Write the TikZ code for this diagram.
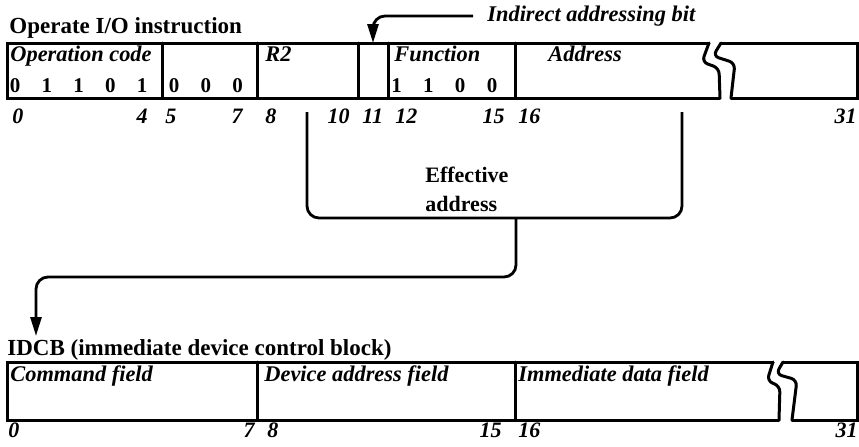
\documentclass[tikz,border=0pt]{standalone}
\usepackage{fontspec}
\setmainfont{Liberation Serif}
\usetikzlibrary{arrows.meta}
\tikzset{
    reg/.style   = {line width=1.5pt, line cap=round, line join=miter},
    link/.style  = {line width=1.4pt, rounded corners=6pt},
    title/.style = {font=\fontsize{11.5}{13}\selectfont\bfseries, inner sep=0pt, anchor=base west},
    fname/.style = {font=\fontsize{11.2}{13}\selectfont\bfseries\itshape, inner sep=0pt, anchor=base west},
    bitval/.style = {font=\fontsize{10.5}{12}\selectfont\bfseries, inner sep=0pt, anchor=base},
    bitno/.style = {font=\fontsize{11}{12}\selectfont\bfseries\itshape, inner sep=0pt}
}
\begin{document}
\begin{tikzpicture}[x=0.5pt,y=-0.5pt,>={Triangle[length=9.5pt,width=5.5pt]}]
    \useasboundingbox (0,0) rectangle (859,446);

    %% Operate I/O instruction
    \node[title]  (opio) at (9,33) {Operate I/O instruction};
    \draw[reg] (709,43) -- (7,43) -- (7,98) -- (720,98);
    \draw[reg,rounded corners=3pt] (709,43) -- (702,62) -- (719,68) -- (720,98);
    \draw[reg] (721,43) -- (857,43) -- (857,98) -- (731,98);
    \draw[reg,rounded corners=3pt] (721,43) -- (713,56) -- (735,63) -- (731,98);
    \foreach \x in {162,257,358,388,515}
        \draw[reg] (\x,43) -- (\x,98);

    \node[fname]  (opcode) at (10,61)  {Operation code};
    \node[fname]  (r2)     at (265,61) {R2};
    \node[fname]  (func)   at (394,61) {Function};
    \node[fname]  (addr)   at (548,61) {Address};

    \foreach \b/\v in {0/0,1/1,2/1,3/0,4/1,5/0,6/0,7/0,12/1,13/1,14/0,15/0}
        \node[bitval] (v\b) at ({15+31.8*\b},92) {\v};

    \foreach \x/\n in {12/0,165/5,265/8,362/11,395/12,518/16}
        \node[bitno,anchor=base west] (n\n) at (\x,123) {\n};
    \foreach \x/\n in {148/4,243/7,350/10,505/15,857/31}
        \node[bitno,anchor=base east] (n\n) at (\x,123) {\n};

    %% Indirect addressing bit
    \coordinate (b11) at (373,43);
    \node[fname,anchor=west,inner xsep=7pt] (indbit) at (473,16) {Indirect addressing bit};
    \draw[link,->] (indbit.west) -| (b11);

    %% Effective address
    \draw[link] (307,112) -- (307,218) -- (682,218) -- (682,112);
    \coordinate (ea) at (516,218);
    \node[title,anchor=west,align=left,font=\fontsize{11}{14.5}\selectfont\bfseries] (eff) at (425,189) {Effective\\address};

    \coordinate (tip) at (36,336);
    \draw[link,->] (ea) -- ++(0,59) -| (tip);

    %% IDCB
    \node[title]  (idcb) at (7,355) {IDCB (immediate device control block)};
    \draw[reg] (773,362) -- (7,362) -- (7,420) -- (779,420);
    \draw[reg,rounded corners=3pt] (773,362) -- (767,381) -- (780,386) -- (779,420);
    \draw[reg] (783,362) -- (857,362) -- (857,420) -- (792,420);
    \draw[reg,rounded corners=3pt] (783,362) -- (776,374) -- (797,380) -- (792,420);
    \foreach \x in {257,515}
        \draw[reg] (\x,362) -- (\x,420);

    \node[fname]  (cmd)  at (10,381)  {Command field};
    \node[fname]  (dev)  at (264,381) {Device address field};
    \node[fname]  (imm)  at (518,381) {Immediate data field};

    \foreach \x/\n in {8/0,267/8,518/16}
        \node[bitno,anchor=base west] (m\n) at (\x,437) {\n};
    \foreach \x/\n in {255/7,502/15,858/31}
        \node[bitno,anchor=base east] (m\n) at (\x,437) {\n};
\end{tikzpicture}
\end{document}
